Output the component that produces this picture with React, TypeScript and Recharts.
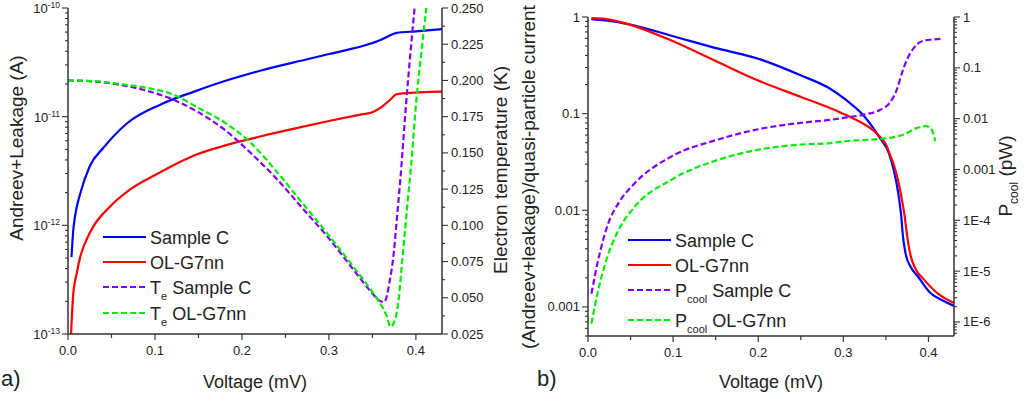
import React from 'react';
import { LineChart, Line, XAxis, YAxis, Legend } from 'recharts';

const FONT = '"Liberation Sans", Arial, Helvetica, sans-serif';
const AXIS = '#333333';
const TXT = '#222222';
const BLUE = '#0000ff';
const RED = '#ff0000';
const PURPLE = '#8000ff';
const GREEN = '#00ee00';

// ---------- tick values / labels ----------
const voltageTicks = [0, 0.05, 0.1, 0.15, 0.2, 0.25, 0.3, 0.35, 0.4];
const currentDecades = [1e-13, 1e-12, 1e-11, 1e-10];
const currentExponents = ['-13', '-12', '-11', '-10'];
const tempTicks = [0.025, 0.0375, 0.05, 0.0625, 0.075, 0.0875, 0.1, 0.1125, 0.125, 0.1375, 0.15, 0.1625, 0.175, 0.1875, 0.2, 0.2125, 0.225, 0.2375, 0.25];
const ratioDecades = [0.001, 0.01, 0.1, 1];
const ratioLabels = ['0.001', '0.01', '0.1', '1'];
const pcoolDecades = [1e-6, 1e-5, 1e-4, 0.001, 0.01, 0.1, 1];
const pcoolLabels = ['1E-6', '1E-5', '1E-4', '0.001', '0.01', '0.1', '1'];

// ---------- panel a) : Andreev+Leakage current (A) ----------
const aSampleCVoltage = [0.004, 0.006, 0.008, 0.014, 0.025, 0.041, 0.068, 0.106, 0.145, 0.183, 0.222, 0.276, 0.3, 0.349, 0.36, 0.368, 0.378, 0.4, 0.43];
const aSampleCCurrent = [5.1e-13, 8.9e-13, 1.2e-12, 1.95e-12, 3.5e-12, 5.2e-12, 8.7e-12, 1.29e-11, 1.7e-11, 2.16e-11, 2.66e-11, 3.39e-11, 3.77e-11, 4.73e-11, 5.1e-11, 5.5e-11, 5.9e-11, 6.1e-11, 6.4e-11];

const aOLG7nnVoltage = [0.0035, 0.006, 0.01, 0.014, 0.025, 0.049, 0.07, 0.1, 0.145, 0.183, 0.222, 0.26, 0.3, 0.3375, 0.35, 0.36, 0.37, 0.377, 0.385, 0.43];
const aOLG7nnCurrent = [1.0e-13, 2.3e-13, 3.6e-13, 5.1e-13, 8.5e-13, 1.51e-12, 2.1e-12, 2.9e-12, 4.4e-12, 5.5e-12, 6.6e-12, 7.76e-12, 9.12e-12, 1.05e-11, 1.1e-11, 1.22e-11, 1.42e-11, 1.6e-11, 1.64e-11, 1.7e-11];

// Electron temperature (K)
const aTeSampleCVoltage = [0, 0.03, 0.06, 0.09, 0.12, 0.15, 0.18, 0.21, 0.24, 0.27, 0.3, 0.33, 0.35, 0.358, 0.3635, 0.37, 0.374, 0.378, 0.382, 0.389, 0.3985];
const aTeSampleCTemp = [0.2, 0.1993, 0.197, 0.193, 0.187, 0.178, 0.166, 0.15, 0.132, 0.1115, 0.091, 0.068, 0.053, 0.048, 0.047, 0.062, 0.078, 0.104, 0.131, 0.186, 0.25];

const aTeOLVoltage = [0, 0.03, 0.06, 0.09, 0.12, 0.15, 0.18, 0.21, 0.24, 0.27, 0.3, 0.33, 0.35, 0.36, 0.366, 0.371, 0.376, 0.38, 0.384, 0.39, 0.395, 0.4, 0.406, 0.412];
const aTeOLTemp = [0.2, 0.1995, 0.1975, 0.195, 0.1905, 0.181, 0.171, 0.157, 0.137, 0.115, 0.093, 0.07, 0.054, 0.045, 0.038, 0.03, 0.035, 0.048, 0.074, 0.113, 0.145, 0.183, 0.218, 0.25];

// ---------- panel b) : (Andreev+leakage)/quasi-particle current ----------
const bSampleCVoltage = [0.004, 0.02, 0.047, 0.098, 0.153, 0.2, 0.251, 0.285, 0.302, 0.324, 0.3435, 0.353, 0.359, 0.365, 0.368, 0.37, 0.373, 0.379, 0.387, 0.402, 0.418, 0.43];
const bSampleCRatio = [0.95, 0.92, 0.845, 0.64, 0.47, 0.37, 0.247, 0.18, 0.141, 0.095, 0.055, 0.04, 0.0266, 0.0141, 0.0087, 0.0054, 0.0036, 0.0026, 0.0021, 0.0014, 0.00115, 0.00102];

const bOLG7nnVoltage = [0.004, 0.02, 0.047, 0.098, 0.153, 0.2, 0.251, 0.285, 0.302, 0.33, 0.34, 0.345, 0.35, 0.355, 0.36, 0.364, 0.368, 0.372, 0.375, 0.379, 0.385, 0.394, 0.41, 0.43];
const bOLG7nnRatio = [0.975, 0.955, 0.845, 0.57, 0.34, 0.22, 0.148, 0.1135, 0.0977, 0.0724, 0.0617, 0.055, 0.0479, 0.0372, 0.0282, 0.0209, 0.0141, 0.0087, 0.0054, 0.0034, 0.00245, 0.00195, 0.0014, 0.0011];

// Pcool (pW)
const bPcoolSampleCVoltage = [0.004, 0.012, 0.024, 0.036, 0.055, 0.098, 0.153, 0.2, 0.251, 0.285, 0.302, 0.324, 0.3435, 0.355, 0.363, 0.369, 0.375, 0.383, 0.394, 0.405, 0.414];
const bPcoolSampleC = [3.6e-6, 1.66e-5, 8.9e-5, 2.2e-4, 5.4e-4, 1.8e-3, 3.9e-3, 6.2e-3, 8.3e-3, 9.5e-3, 0.0105, 0.012, 0.015, 0.021, 0.038, 0.081, 0.148, 0.25, 0.34, 0.36, 0.37];

const bPcoolOLVoltage = [0.004, 0.012, 0.024, 0.036, 0.055, 0.098, 0.153, 0.2, 0.251, 0.285, 0.302, 0.324, 0.355, 0.371, 0.387, 0.397, 0.402, 0.406, 0.408];
const bPcoolOL = [9.3e-7, 4.2e-6, 2.2e-5, 6.5e-5, 1.86e-4, 6.3e-4, 1.55e-3, 2.45e-3, 3.1e-3, 3.3e-3, 3.6e-3, 3.8e-3, 4.2e-3, 4.9e-3, 6.6e-3, 7.1e-3, 6.6e-3, 4.9e-3, 3.6e-3];

// ---------- helpers ----------
const zip = (xs: number[], ys: number[]) => xs.map((v, i) => ({ v, y: ys[i] }));

const withMinors = (decades: number[], lo: number, hi: number) => {
  const out: number[] = [];
  const all = [decades[0] / 10, ...decades];
  all.forEach((d) => {
    for (let k = 1; k <= 9; k++) {
      const t = k * d;
      if (t >= lo * 0.9999 && t <= hi * 1.0001) out.push(t);
    }
  });
  return Array.from(new Set(out.map((t) => Number(t.toPrecision(6))))).sort((a, b) => a - b);
};

const isDecade = (v: number) => Math.abs(Math.log10(v) - Math.round(Math.log10(v))) < 1e-6;
const findIdx = (arr: number[], v: number) => arr.findIndex((d) => Math.abs(Math.log10(d) - Math.log10(v)) < 1e-6);

const TICK_FS = 13;

const bottomTick = (props: any) => {
  const { x, y, payload } = props;
  const v = payload.value as number;
  const major = Math.abs(v * 10 - Math.round(v * 10)) < 1e-6;
  return (
    <g>
      <line x1={x} x2={x} y1={y} y2={y + (major ? 6 : 4)} stroke={AXIS} strokeWidth={1.2} />
      {major && (
        <text x={x} y={y + 21} textAnchor="middle" fontSize={TICK_FS} fontFamily={FONT} fill={TXT}>
          {v.toFixed(1)}
        </text>
      )}
    </g>
  );
};

const currentTick = (props: any) => {
  const { x, y, payload } = props;
  const v = payload.value as number;
  const major = isDecade(v);
  const idx = findIdx(currentDecades, v);
  return (
    <g>
      <line x1={x} x2={x - (major ? 6 : 3)} y1={y} y2={y} stroke={AXIS} strokeWidth={1.1} />
      {major && idx >= 0 && (
        <text x={x - 8} y={y + 5} textAnchor="end" fontSize={TICK_FS} fontFamily={FONT} fill={TXT}>
          <tspan>10</tspan>
          <tspan dy={-5} fontSize={8.5}>{currentExponents[idx]}</tspan>
        </text>
      )}
    </g>
  );
};

const tempTick = (props: any) => {
  const { x, y, payload } = props;
  const v = payload.value as number;
  const major = Math.abs(v / 0.025 - Math.round(v / 0.025)) < 1e-6;
  return (
    <g>
      <line x1={x} x2={x + (major ? 6 : 3)} y1={y} y2={y} stroke={AXIS} strokeWidth={1.1} />
      {major && (
        <text x={x + 9} y={y + 4.5} textAnchor="start" fontSize={TICK_FS} fontFamily={FONT} fill={TXT}>
          {v.toFixed(3)}
        </text>
      )}
    </g>
  );
};

const ratioTick = (props: any) => {
  const { x, y, payload } = props;
  const v = payload.value as number;
  const major = isDecade(v);
  const idx = findIdx(ratioDecades, v);
  return (
    <g>
      <line x1={x} x2={x - (major ? 6 : 3)} y1={y} y2={y} stroke={AXIS} strokeWidth={1.1} />
      {major && idx >= 0 && (
        <text x={x - 8} y={y + 4.5} textAnchor="end" fontSize={TICK_FS} fontFamily={FONT} fill={TXT}>
          {ratioLabels[idx]}
        </text>
      )}
    </g>
  );
};

const pcoolTick = (props: any) => {
  const { x, y, payload } = props;
  const v = payload.value as number;
  const major = isDecade(v);
  const idx = findIdx(pcoolDecades, v);
  return (
    <g>
      <line x1={x} x2={x + (major ? 6 : 3)} y1={y} y2={y} stroke={AXIS} strokeWidth={1.1} />
      {major && idx >= 0 && (
        <text x={x + 9} y={y + 4.5} textAnchor="start" fontSize={TICK_FS} fontFamily={FONT} fill={TXT}>
          {pcoolLabels[idx]}
        </text>
      )}
    </g>
  );
};

const LABEL_FS = 19;

const rotLabel = (cx: number, cy: number, content: React.ReactNode) => (
  <text
    x={cx}
    y={cy}
    transform={`rotate(-90 ${cx} ${cy})`}
    textAnchor="middle"
    fontSize={LABEL_FS}
    fontFamily={FONT}
    fill={TXT}
    dy={7}
  >
    {content}
  </text>
);

const xLabel = (props: any) => {
  const vb = props.viewBox;
  return (
    <text x={vb.x + vb.width / 2} y={388} textAnchor="middle" fontSize={18} fontFamily={FONT} fill={TXT}>
      Voltage (mV)
    </text>
  );
};

type LegItem = { sym?: string; sub?: string; name: string; color: string; dashed: boolean };

const legendA: LegItem[] = [
  { name: 'Sample C', color: BLUE, dashed: false },
  { name: 'OL-G7nn', color: RED, dashed: false },
  { sym: 'T', sub: 'e', name: ' Sample C', color: PURPLE, dashed: true },
  { sym: 'T', sub: 'e', name: ' OL-G7nn', color: GREEN, dashed: true },
];
const legendB: LegItem[] = [
  { name: 'Sample C', color: BLUE, dashed: false },
  { name: 'OL-G7nn', color: RED, dashed: false },
  { sym: 'P', sub: 'cool', name: ' Sample C', color: PURPLE, dashed: true },
  { sym: 'P', sub: 'cool', name: ' OL-G7nn', color: GREEN, dashed: true },
];

const makeLegend = (items: LegItem[], rows: number[]) => () => (
  <svg width={230} height={110} style={{ overflow: 'visible', display: 'block' }}>
    {items.map((it, i) => (
      <g key={i}>
        <line
          x1={0}
          x2={43}
          y1={rows[i]}
          y2={rows[i]}
          stroke={it.color}
          strokeWidth={2.2}
          strokeDasharray={it.dashed ? '6 3' : undefined}
        />
        <text x={47} y={rows[i] + 6.5} fontSize={18} fontFamily={FONT} fill={TXT}>
          {it.sym ? (
            <>
              <tspan>{it.sym}</tspan>
              <tspan dy={6} fontSize={11}>{it.sub}</tspan>
              <tspan dy={-6}>{it.name}</tspan>
            </>
          ) : (
            it.name
          )}
        </text>
      </g>
    ))}
  </svg>
);

const axisLine = { stroke: AXIS, strokeWidth: 1.5 };

export default function App() {
  const currentTicks = withMinors(currentDecades, 1e-13, 1e-10);
  const ratioTicks = withMinors(ratioDecades, 5e-4, 1);
  const pcoolTicks = withMinors(pcoolDecades, 5.3e-7, 1);

  return (
    <div
      style={{
        position: 'absolute',
        left: 0,
        top: 0,
        width: 1024,
        height: 393,
        background: '#ffffff',
        fontFamily: FONT,
        overflow: 'hidden',
      }}
    >
      {/* Panel a */}
      <div style={{ position: 'absolute', left: 0, top: 0 }}>
        <LineChart width={510} height={393} margin={{ top: 8, right: 0, bottom: 0, left: 0 }}>
          <XAxis
            dataKey="v"
            type="number"
            domain={[0, 0.43]}
            allowDataOverflow
            ticks={voltageTicks}
            interval={0}
            tick={bottomTick}
            tickSize={0}
            tickMargin={0}
            tickLine={false}
            axisLine={axisLine}
            height={59}
            label={xLabel}
          />
          <YAxis
            yAxisId="cur"
            orientation="left"
            scale="log"
            domain={[1e-13, 1e-10]}
            allowDataOverflow
            ticks={currentTicks}
            interval={0}
            tick={currentTick}
            tickSize={0}
            tickMargin={0}
            tickLine={false}
            axisLine={axisLine}
            width={68}
            label={(p: any) => rotLabel(p.viewBox.x + 16, 148, 'Andreev+Leakage (A)')}
          />
          <YAxis
            yAxisId="te"
            orientation="right"
            domain={[0.025, 0.25]}
            allowDataOverflow
            ticks={tempTicks}
            interval={0}
            tick={tempTick}
            tickSize={0}
            tickMargin={0}
            tickLine={false}
            axisLine={axisLine}
            width={68}
            label={(p: any) => rotLabel(p.viewBox.x + 58, 170, 'Electron temperature (K)')}
          />
          <Line yAxisId="cur" data={zip(aSampleCVoltage, aSampleCCurrent)} dataKey="y" type="monotone" stroke={BLUE} strokeWidth={2.2} dot={false} isAnimationActive={false} name="Sample C" />
          <Line yAxisId="cur" data={zip(aOLG7nnVoltage, aOLG7nnCurrent)} dataKey="y" type="monotone" stroke={RED} strokeWidth={2.2} dot={false} isAnimationActive={false} name="OL-G7nn" />
          <Line yAxisId="te" data={zip(aTeSampleCVoltage, aTeSampleCTemp)} dataKey="y" type="monotone" stroke={PURPLE} strokeWidth={2.2} strokeDasharray="6 3" dot={false} isAnimationActive={false} name="Te Sample C" />
          <Line yAxisId="te" data={zip(aTeOLVoltage, aTeOLTemp)} dataKey="y" type="monotone" stroke={GREEN} strokeWidth={2.2} strokeDasharray="6 3" dot={false} isAnimationActive={false} name="Te OL-G7nn" />
          <Legend
            layout="vertical"
            align="center"
            verticalAlign="middle"
            content={makeLegend(legendA, [12, 37, 62, 88])}
            wrapperStyle={{ position: 'absolute', left: 103, top: 225, bottom: 'auto', right: 'auto', width: 230, height: 110 }}
          />
        </LineChart>
      </div>

      {/* Panel b */}
      <div style={{ position: 'absolute', left: 515, top: 0 }}>
        <LineChart width={509} height={393} margin={{ top: 17, right: 0, bottom: 0, left: 0 }}>
          <XAxis
            dataKey="v"
            type="number"
            domain={[0, 0.43]}
            allowDataOverflow
            ticks={voltageTicks}
            interval={0}
            tick={bottomTick}
            tickSize={0}
            tickMargin={0}
            tickLine={false}
            axisLine={axisLine}
            height={57}
            label={xLabel}
          />
          <YAxis
            yAxisId="ratio"
            orientation="left"
            scale="log"
            domain={[5e-4, 1]}
            allowDataOverflow
            ticks={ratioTicks}
            interval={0}
            tick={ratioTick}
            tickSize={0}
            tickMargin={0}
            tickLine={false}
            axisLine={axisLine}
            width={73}
            label={(p: any) => rotLabel(p.viewBox.x + 13, 177, '(Andreev+leakage)/quasi-particle current')}
          />
          <YAxis
            yAxisId="pcool"
            orientation="right"
            scale="log"
            domain={[5.3e-7, 1]}
            allowDataOverflow
            ticks={pcoolTicks}
            interval={0}
            tick={pcoolTick}
            tickSize={0}
            tickMargin={0}
            tickLine={false}
            axisLine={axisLine}
            width={70}
            label={(p: any) =>
              rotLabel(p.viewBox.x + 51, 176, (
                <>
                  <tspan>P</tspan>
                  <tspan dy={6} fontSize={12}>cool</tspan>
                  <tspan dy={-6}> (pW)</tspan>
                </>
              ))
            }
          />
          <Line yAxisId="ratio" data={zip(bSampleCVoltage, bSampleCRatio)} dataKey="y" type="monotone" stroke={BLUE} strokeWidth={2.2} dot={false} isAnimationActive={false} name="Sample C" />
          <Line yAxisId="ratio" data={zip(bOLG7nnVoltage, bOLG7nnRatio)} dataKey="y" type="monotone" stroke={RED} strokeWidth={2.2} dot={false} isAnimationActive={false} name="OL-G7nn" />
          <Line yAxisId="pcool" data={zip(bPcoolSampleCVoltage, bPcoolSampleC)} dataKey="y" type="monotone" stroke={PURPLE} strokeWidth={2.2} strokeDasharray="6 3" dot={false} isAnimationActive={false} name="Pcool Sample C" />
          <Line yAxisId="pcool" data={zip(bPcoolOLVoltage, bPcoolOL)} dataKey="y" type="monotone" stroke={GREEN} strokeWidth={2.2} strokeDasharray="6 3" dot={false} isAnimationActive={false} name="Pcool OL-G7nn" />
          <Legend
            layout="vertical"
            align="center"
            verticalAlign="middle"
            content={makeLegend(legendB, [12, 37, 62, 92])}
            wrapperStyle={{ position: 'absolute', left: 113, top: 228, bottom: 'auto', right: 'auto', width: 230, height: 110 }}
          />
        </LineChart>
      </div>

      <div style={{ position: 'absolute', left: 1, top: 366, fontSize: 22, color: TXT, fontFamily: FONT, lineHeight: '26px' }}>a)</div>
      <div style={{ position: 'absolute', left: 537, top: 366, fontSize: 22, color: TXT, fontFamily: FONT, lineHeight: '26px' }}>b)</div>
    </div>
  );
}
